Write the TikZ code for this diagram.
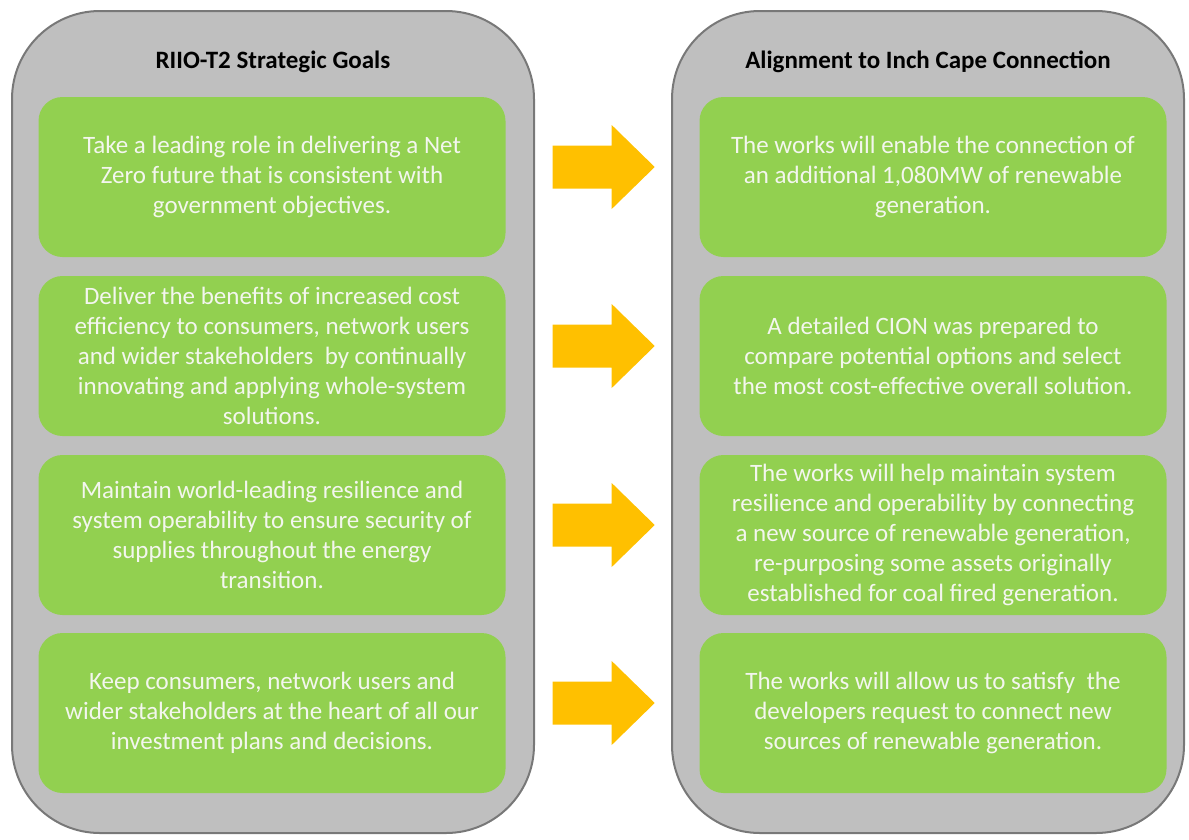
\documentclass[tikz,border=0pt]{standalone}
\usepackage{fontspec}
\setmainfont{Carlito}
\definecolor{panelgray}{RGB}{191,191,191}
\definecolor{edgegray}{RGB}{120,120,120}
\definecolor{goalgreen}{RGB}{146,208,80}
\definecolor{arroworange}{RGB}{255,192,0}
\definecolor{softwhite}{RGB}{243,246,238}
\begin{document}
\begin{tikzpicture}[x=1pt,y=-1pt,
    panel/.style={draw=edgegray,line width=2pt,fill=panelgray,rounded corners=88pt,
        minimum width=522pt,minimum height=822pt,inner sep=0pt},
    title/.style={font=\fontsize{25}{30}\selectfont\bfseries,text=black},
    goal/.style={fill=goalgreen,rounded corners=24pt,minimum width=467pt,minimum height=160pt,
        align=center,text=softwhite,inner sep=0pt,font=\fontsize{25}{30}\selectfont}]
            \useasboundingbox (0,0) rectangle (1189,839);

            \node[panel] (leftpanel) at (273,422) {};
            \node[panel,minimum width=512pt] (rightpanel) at (928,422) {};

            \node[title] (lefttitle) at (273,62) {RIIO-T2 Strategic Goals};
            \node[title] (righttitle) at (928,62) {Alignment to Inch Cape Connection};

            \node[goal] (goal1) at (272,177) {Take a leading role in delivering a Net\\Zero future that is consistent with\\government objectives.};
            \node[goal] (goal2) at (272,356) {Deliver the benefits of increased cost\\efficiency to consumers, network users\\and wider stakeholders\ \ by continually\\innovating and applying whole-system\\solutions.};
            \node[goal] (goal3) at (272,535) {Maintain world-leading resilience and\\system operability to ensure security of\\supplies throughout the energy\\transition.};
            \node[goal] (goal4) at (272,713) {Keep consumers, network users and\\wider stakeholders at the heart of all our\\investment plans and decisions.};

            \node[goal] (align1) at (933,177) {The works will enable the connection of\\an additional 1,080MW of renewable\\generation.};
            \node[goal] (align2) at (933,356) {A detailed CION was prepared to\\compare potential options and select\\the most cost-effective overall solution.};
            \node[goal] (align3) at (933,535) {The works will help maintain system\\resilience and operability by connecting\\a new source of renewable generation,\\re-purposing some assets originally\\established for coal fired generation.};
            \node[goal] (align4) at (933,713) {The works will allow us to satisfy\ \ the\\developers request to connect new\\sources of renewable generation.};

            % block arrows between the two columns
            \foreach \i in {1,...,4} {
                \fill[arroworange] ([yshift=10pt]goal\i.east) ++(47,-21.5) -- ++(59,0) -- ++(0,-20.5)
                    -- ++(43,42) -- ++(-43,42) -- ++(0,-20.5) -- ++(-59,0) -- cycle;
            }
        \end{tikzpicture}
\end{document}
